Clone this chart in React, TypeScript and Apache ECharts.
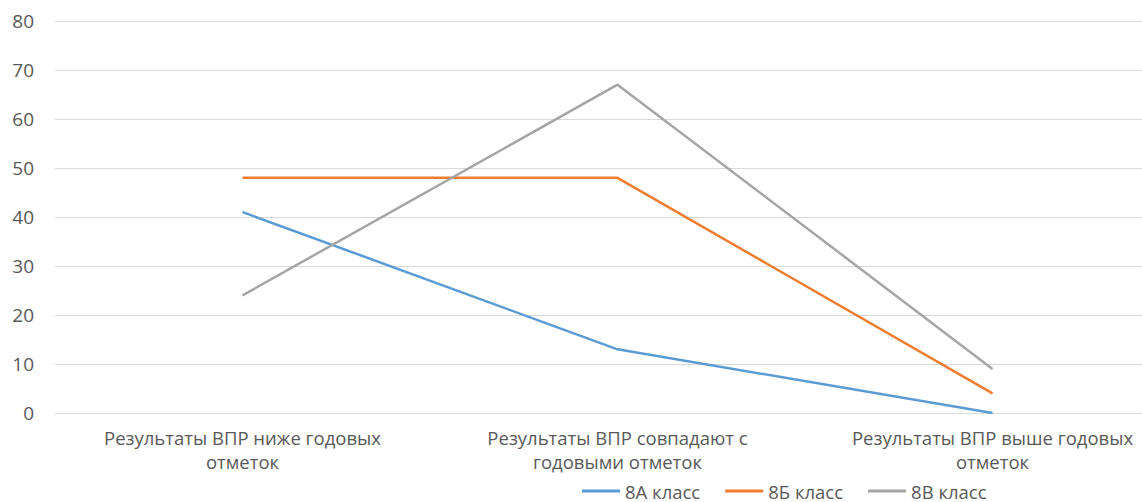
import React, { useEffect, useRef } from "react";
import * as echarts from "echarts";

const categories = [
  "Результаты ВПР ниже годовых\nотметок",
  "Результаты ВПР совпадают с\nгодовыми отметок",
  "Результаты ВПР выше годовых\nотметок",
];
const class8A = [41, 13, 0];
const class8B = [48, 48, 4];
const class8V = [24, 67, 9];
const seriesNames = ["8А класс", "8Б класс", "8В класс"];
const colors = ["#5B9BD5", "#ED7D31", "#A5A5A5"];

export default function App() {
  const ref = useRef<HTMLDivElement>(null);
  useEffect(() => {
    if (!ref.current) return;
    const chart = echarts.init(ref.current, null, { renderer: "svg" });
    const font = "Open Sans";
    const data = [class8A, class8B, class8V];
    chart.setOption({
      animation: false,
      color: colors,
      textStyle: { fontFamily: font },
      grid: { left: 55, right: 0, top: 21, bottom: 89, containLabel: false },
      xAxis: {
        type: "category",
        data: categories,
        boundaryGap: true,
        axisLine: { show: true, lineStyle: { color: "#D9D9D9", width: 1 } },
        axisTick: { show: false },
        axisLabel: {
          color: "#595959",
          fontSize: 18.5,
          fontFamily: font,
          margin: 12,
          lineHeight: 24,
          interval: 0,
          hideOverlap: false,
        },
      },
      yAxis: {
        type: "value",
        min: 0,
        max: 80,
        interval: 10,
        axisLine: { show: false },
        axisTick: { show: false },
        splitLine: { lineStyle: { color: "#D9D9D9", width: 1 } },
        axisLabel: { color: "#595959", fontSize: 19, fontFamily: font, margin: 21 },
      },
      legend: {
        top: 481,
        left: 582,
        padding: 0,
        itemWidth: 38,
        itemHeight: 3,
        itemGap: 25,
        icon: "rect",
        textStyle: { color: "#595959", fontSize: 18.5, fontFamily: font, lineHeight: 20 },
        data: seriesNames,
      },
      series: seriesNames.map((name, i) => ({
        name,
        type: "line",
        data: data[i],
        showSymbol: false,
        symbol: "none",
        lineStyle: { width: 2.5, color: colors[i] },
        itemStyle: { color: colors[i] },
      })),
    });
    return () => chart.dispose();
  }, []);
  return (
    <div
      style={{
        position: "fixed",
        left: 0,
        top: 0,
        width: 1142,
        height: 502,
        overflow: "hidden",
        background: "#fff",
      }}
    >
      <div ref={ref} style={{ width: 1180, height: 502 }} />
    </div>
  );
}
